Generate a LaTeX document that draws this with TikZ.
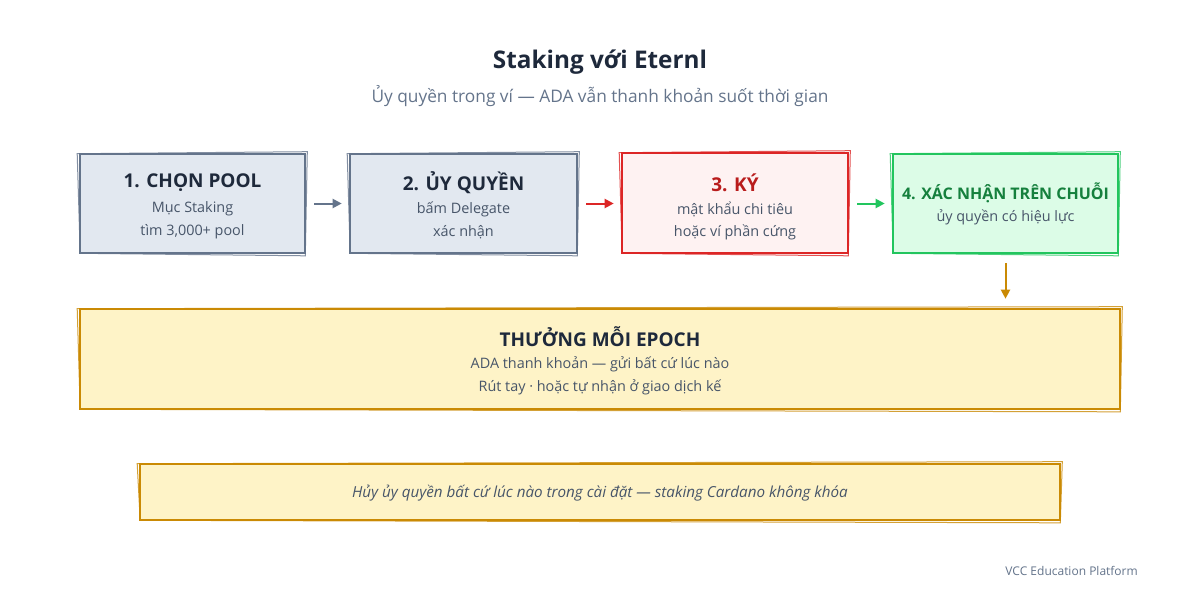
\documentclass[tikz,border=0pt]{standalone}
\usepackage{fontspec}
\setmainfont{Open Sans}
\usetikzlibrary{calc,arrows.meta}
\definecolor{ink}{HTML}{1E293B}
\definecolor{body}{HTML}{475569}
\definecolor{muted}{HTML}{64748B}
\definecolor{slatefill}{HTML}{E2E8F0}
\definecolor{slateline}{HTML}{64748B}
\definecolor{redfill}{HTML}{FEF2F2}
\definecolor{redline}{HTML}{DC2626}
\definecolor{redtext}{HTML}{B91C1C}
\definecolor{greenfill}{HTML}{DCFCE7}
\definecolor{greenline}{HTML}{22C55E}
\definecolor{greentext}{HTML}{15803D}
\definecolor{amberfill}{HTML}{FEF3C7}
\definecolor{amberline}{HTML}{CA8A04}
\newcommand{\sketchedge}[2]{%
  \draw[#2, line width=1pt, opacity=.8]
    ($(#1.north west)+(-1.5,1)$) -- ($(#1.north east)+(1,-1)$)
    -- ($(#1.south east)+(-1,1.5)$) -- ($(#1.south west)+(1.5,-1)$) -- cycle;}
\begin{document}
\begin{tikzpicture}[x=1pt,y=-1pt,
  box/.style={draw=#1line, fill=#1fill, line width=2.6pt, inner sep=0pt},
  ttl/.style={font=\bfseries\fontsize{19}{22}\selectfont, text=ink, inner sep=0pt},
  sub/.style={font=\fontsize{14.4}{17}\selectfont, text=body, inner sep=0pt},
  conn/.style={line width=2pt, -{Triangle[length=9pt,width=9pt]}, shorten <=8pt, shorten >=7pt}]
\useasboundingbox (0,0) rectangle (1200,600);
\fill[white] (0,0) rectangle (1200,600);

\node[font=\bfseries\fontsize{24.3}{29}\selectfont, text=ink, inner sep=0pt] (title) at (600,62) {Staking với Eternl};
\node[font=\fontsize{17.3}{21}\selectfont, text=muted, inner sep=0pt] (subtitle) at (600,96) {Ủy quyền trong ví — ADA vẫn thanh khoản suốt thời gian};

\node[box=slate, minimum width=225pt, minimum height=99pt] (b1) at (192.5,203.5) {};
\node[box=slate, minimum width=227pt, minimum height=99pt] (b2) at (463.5,203.5) {};
\node[box=red, minimum width=226pt, minimum height=100pt] (b3) at (735,203) {};
\node[box=green, minimum width=225pt, minimum height=99pt] (b4) at (1005.5,203.5) {};
\node[box=amber, minimum width=1040pt, minimum height=100pt] (rew) at (600,359) {};
\node[box=amber, minimum width=920pt, minimum height=56pt] (note) at (600,492) {};
\sketchedge{b1}{slateline}
\sketchedge{b2}{slateline}
\sketchedge{b3}{redline}
\sketchedge{b4}{greenline}
\sketchedge{rew}{amberline}
\sketchedge{note}{amberline}

\node[ttl] (t1) at (192.5,182.5) {1. CHỌN POOL};
\node[sub] (s1a) at (192.5,209) {Mục Staking};
\node[sub] (s1b) at (192.5,232) {tìm 3,000+ pool};

\node[ttl] (t2) at (463.5,182.5) {2. ỦY QUYỀN};
\node[sub] (s2a) at (463.5,209) {bấm Delegate};
\node[sub] (s2b) at (463.5,232) {xác nhận};

\node[ttl, text=redtext] (t3) at (735,183) {3. KÝ};
\node[sub] (s3a) at (735,209) {mật khẩu chi tiêu};
\node[sub] (s3b) at (735,232) {hoặc ví phần cứng};

\node[ttl, font=\bfseries\fontsize{16}{19}\selectfont, text=greentext] (t4) at (1005.5,192.5) {4. XÁC NHẬN TRÊN CHUỖI};
\node[sub] (s4a) at (1005.5,217) {ủy quyền có hiệu lực};

\node[ttl] (tr) at (600,337) {THƯỞNG MỖI EPOCH};
\node[sub] (sra) at (600,364) {ADA thanh khoản — gửi bất cứ lúc nào};
\node[sub] (srb) at (600,387) {Rút tay · hoặc tự nhận ở giao dịch kế};

\node[sub, font=\itshape\fontsize{15.2}{18}\selectfont] (tn) at (600,493) {Hủy ủy quyền bất cứ lúc nào trong cài đặt — staking Cardano không khóa};

\node[font=\fontsize{12}{14}\selectfont, text=muted, inner sep=0pt, anchor=east] (foot) at (1138,571) {VCC Education Platform};

\draw[conn, slateline] (b1.east) -- (b2.west);
\draw[conn, redline] (b2.east) -- (b3.west |- b2.east);
\draw[conn, greenline] (b3.east |- b4.west) -- (b4.west);
\draw[conn, amberline, shorten <=9pt, shorten >=9pt] (b4.south) -- (b4.south |- rew.north);
\end{tikzpicture}
\end{document}
